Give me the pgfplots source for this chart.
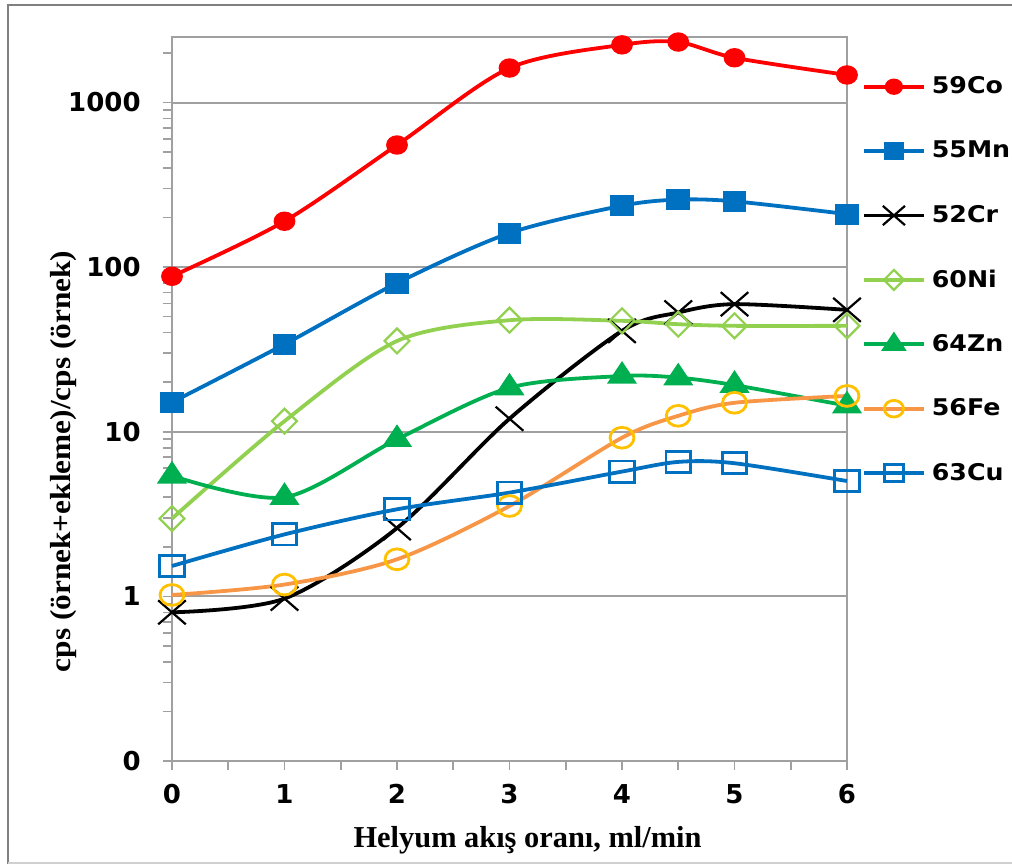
\documentclass[border=0pt]{standalone}
\usepackage{fontspec}
\setmainfont{Liberation Serif}
\newfontfamily\dv{DejaVu Sans}
\usepackage{graphicx}
\usepackage{pgfplots}
\pgfplotsset{compat=1.18}

\definecolor{cCo}{RGB}{255,0,0}
\definecolor{cMn}{RGB}{0,112,192}
\definecolor{cNi}{RGB}{146,208,80}
\definecolor{cZn}{RGB}{0,176,80}
\definecolor{cFeL}{RGB}{247,150,70}
\definecolor{cFeM}{RGB}{255,192,0}
\definecolor{cgrid}{RGB}{160,160,160}
\definecolor{cframe}{RGB}{128,128,128}

\newcommand{\lgd}[1]{\scalebox{1.1}[1]{\dv\bfseries\fontsize{11.5}{12}\selectfont #1}}

\begin{document}
\begin{tikzpicture}
\useasboundingbox (-86pt,-51.5pt) rectangle (420pt,380.5pt);
\draw[cframe, line width=1.3pt] (-82pt,-51.5pt) -- (-82pt,378pt) -- (420pt,378pt);
\draw[cgrid!50, line width=0.8pt] (-82pt,-51pt) -- (420pt,-51pt);
\begin{axis}[
  width=337.5pt, height=362pt, scale only axis,
  xmin=0, xmax=6,
  ymode=log, ymin=0.1, ymax=2500,
  xtick={0,1,2,3,4,5,6}, xticklabels={0,1,2,3,4,5,6},
  minor xtick={0.5,1.5,2.5,3.5,4.5,5.5},
  ytick={0.1,1,10,100,1000}, yticklabels={0,1,10,100,1000},
  minor ytick={0.2,0.3,0.4,0.5,0.6,0.7,0.8,0.9,2,3,4,5,6,7,8,9,20,30,40,50,60,70,80,90,200,300,400,500,600,700,800,900,2000},
  tick pos=left, tick align=outside,
  major tick length=4.5pt, minor tick length=4.5pt,
  every tick/.style={cgrid, line width=0.8pt},
  axis line style={cgrid, line width=1pt},
  ymajorgrids, major grid style={cgrid, line width=1pt},
  ticklabel style={font=\dv\bfseries\fontsize{13}{13}\selectfont, inner sep=0pt},
  yticklabel shift=11pt,
  xticklabel shift=7pt,
  clip=false,
  xlabel={\bfseries\fontsize{15.2}{16}\selectfont Helyum akış oranı, ml/min},
  xlabel style={at={(axis description cs:0.5267,-0.1188)}, anchor=base},
  ylabel={\scalebox{1.08}[1]{\bfseries\fontsize{14.5}{15}\selectfont cps (örnek+ekleme)/cps (örnek)}},
  ylabel style={at={(axis description cs:-0.1607,0.4137)}, anchor=center},
  legend cell align=left,
  legend style={at={(axis description cs:1,1)}, anchor=north west, xshift=7.5pt, yshift=-8.75pt,
    draw=none, fill=none, inner sep=0pt, outer sep=0pt, row sep=0pt,
    nodes={inner sep=0pt, minimum height=32.2pt},
    /tikz/every odd column/.append style={column sep=3pt}},
  legend image code/.code={\draw[mark repeat=2, mark phase=2, every mark/.append style={scale=0.8}] plot coordinates {(0pt,0pt) (15pt,0pt) (30pt,0pt)};},
]
\addplot[cCo, line width=1.9pt, smooth, tension=0.5, mark=*, mark size=3.9pt, mark options={solid, fill=cCo, xscale=1.15}]
coordinates {(0,88) (1,190) (2,552) (3,1620) (4,2240) (4.5,2330) (5,1870) (6,1470)};
\addlegendentry{\lgd{59Co}}
\addplot[cMn, line width=1.9pt, smooth, tension=0.5, mark=square*, mark size=4.3pt, mark options={solid, fill=cMn, xscale=1.15}]
coordinates {(0,15.1) (1,34) (2,80) (3,161) (4,236) (4.5,257) (5,251) (6,210)};
\addlegendentry{\lgd{55Mn}}
\addplot[black, line width=1.9pt, smooth, tension=0.5, mark=x, mark size=8.5pt, mark options={solid, line width=1.1pt, xscale=1.15}]
coordinates {(0,0.80) (1,0.97) (2,2.6) (3,12) (4,41) (4.5,53) (5,59.6) (6,55)};
\addlegendentry{\lgd{52Cr}}
\addplot[cNi, line width=1.9pt, smooth, tension=0.5, mark=square, mark size=4.4pt, mark options={solid, fill=white, line width=1.1pt, rotate=45}]
coordinates {(0,2.97) (1,11.6) (2,35.6) (3,47.6) (4,47.2) (4.5,45) (5,44) (6,44)};
\addlegendentry{\lgd{60Ni}}
\addplot[cZn, line width=1.9pt, smooth, tension=0.5, mark=triangle*, mark size=5.8pt, mark options={solid, fill=cZn, xscale=1.15}]
coordinates {(0,5.4) (1,4.0) (2,9.0) (3,18.5) (4,21.8) (4.5,21.3) (5,19.2) (6,14.4)};
\addlegendentry{\lgd{64Zn}}
\addplot[cFeL, line width=1.9pt, smooth, tension=0.5, mark=o, mark size=5.2pt, mark options={solid, draw=cFeM, line width=1.4pt, xscale=1.15}]
coordinates {(0,1.02) (1,1.18) (2,1.68) (3,3.54) (4,9.2) (4.5,12.5) (5,15.0) (6,16.5)};
\addlegendentry{\lgd{56Fe}}
\addplot[cMn, line width=1.9pt, smooth, tension=0.5, mark=square, mark size=5.3pt, mark options={solid, line width=1.4pt, xscale=1.15}]
coordinates {(0,1.53) (1,2.38) (2,3.38) (3,4.27) (4,5.73) (4.5,6.56) (5,6.44) (6,5.02)};
\addlegendentry{\lgd{63Cu}}
\end{axis}
\end{tikzpicture}
\end{document}
